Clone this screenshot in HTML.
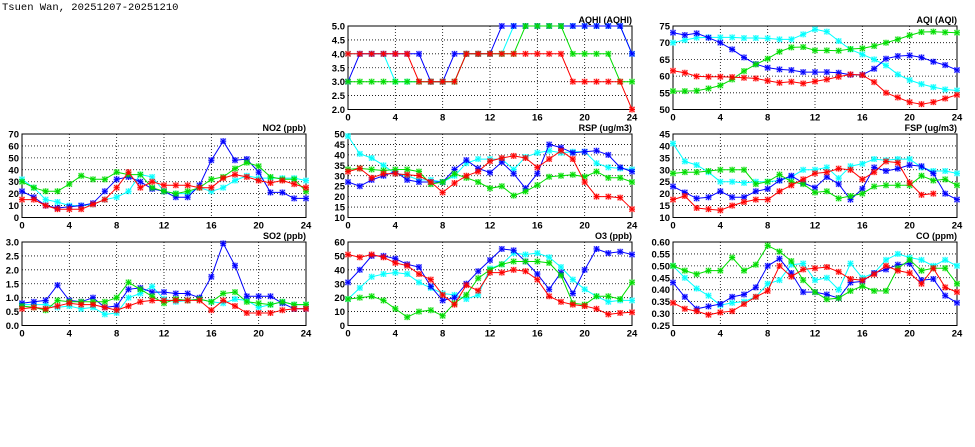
<!DOCTYPE html>
<html><head><meta charset="utf-8"><style>
body{margin:0;background:#fff;}
svg{display:block;font-family:"Liberation Sans",sans-serif;}
</style></head><body>
<svg id="c" width="975" height="447">
<text x="2" y="10" font-size="10.5" font-family="Liberation Mono, monospace">Tsuen Wan, 20251207-20251210</text>
</svg>
<script>
const hours=[0,1,2,3,4,5,6,7,8,9,10,11,12,13,14,15,16,17,18,19,20,21,22,23,24];
const xTicks=[0,4,8,12,16,20,24];
const colors=["#00ffff","#0000ff","#00dd00","#ff0000"];
const seriesNames=["cyan","blue","green","red"];
// AQHI
const aqhiCyan=[4,4,4,4,3,3,3,3,3,3,4,4,4,4,5,5,5,5,5,5,5,5,5,5,4];
const aqhiBlue=[3,4,4,4,4,4,4,3,3,4,4,4,4,5,5,5,5,5,5,5,5,5,5,5,4];
const aqhiGreen=[3,3,3,3,3,3,3,3,3,3,4,4,4,4,4,5,5,5,5,4,4,4,4,3,3];
const aqhiRed=[4,4,4,4,4,4,3,3,3,3,4,4,4,4,4,4,4,4,4,3,3,3,3,3,2];
const aqhiTicks=[2.0,2.5,3.0,3.5,4.0,4.5,5.0];
// AQI
const aqiCyan=[70,70.8,71.5,71.6,71.6,71.6,71.4,71.4,71.3,71,71,72.5,74,73.3,70.5,68,66.5,65,63.2,60.5,58.8,57.6,56.7,56,55.7];
const aqiBlue=[73,72.3,72.8,71.5,70,68,65.6,63.6,62.5,62,61.8,61.2,61.2,61.2,61,60.4,60.4,62.2,65.2,66,66.2,65.6,64.3,63.3,61.8];
const aqiGreen=[55.5,55.5,55.6,56.3,57.2,59,61.5,63.5,65.2,67.3,68.6,68.7,67.7,67.7,67.6,68.1,68.3,69,70,71,72.2,73.2,73.3,73.1,73];
const aqiRed=[61.6,61,59.9,59.8,59.8,59.7,59.5,59.3,58.6,58,58.3,57.8,58.4,59,59.8,60.5,60.3,58.2,55,53.6,52.2,51.6,52.2,53.3,54.4];
const aqiTicks=[50,55,60,65,70,75];
// NO2
const no2Cyan=[32,25,15,13,10,10,11,15,17,22,36,34,22,20,20,25,22,25,31,35,33,33,33,33,31];
const no2Blue=[22,17,10,8,9,10,12,22,32,34,30,24,22,17,17,27,48,64,48,49,38,21,21,16,16];
const no2Green=[30,25,22,22,28,35,32,32,38,36,36,25,22,20,22,25,32,34,41,46,43,34,32,32,22];
const no2Red=[15,15,10,7,7,7,11,15,25,38,25,30,27,27,27,25,25,33,36,34,31,29,31,28,25];
const no2Ticks=[0,10,20,30,40,50,60,70];
// RSP
const rspCyan=[49,40.5,38.5,35,31,30,28,28,27,30,36,38,38,38,33,39,41,42,41,41.5,41.5,36,34,33.5,33];
const rspBlue=[27,25,28,30,32,28,27,27,27,33,37.5,33.5,31.5,36.5,31,24,31,45,43.5,41,41.5,42,40,34,32];
const rspGreen=[33,33.5,33,32.5,33,33,32,26,27,31,29,27,24,25,20.5,22.5,25.5,29.5,30,30.5,29.5,32,29,29,27];
const rspRed=[32,33.5,29,31,31,30.5,30,27,22,26.5,30,32,37,38.5,39.5,38.5,34,38,42,38,27,20,20,19.5,14];
const rspTicks=[10,15,20,25,30,35,40,45,50];
// FSP
const fspCyan=[41,33.5,32,29,25,25,24.5,25,25,25.5,27,30,30,31,26.5,31.5,32.5,34.5,34,34.5,34.5,31,29.5,29.5,28.5];
const fspBlue=[23,20.5,18,18.5,21,18.5,18.5,21,22,25.5,27.5,24.5,22.5,27,24,17.5,22,31,29.5,30.5,32,31.5,28.5,20,17.5];
const fspGreen=[28.5,29,29,29.5,30,30,30,24,25,28,25,24,20.5,21,18,19,20,23,23.5,23.5,23.5,27.5,25.5,26,23.5];
const fspRed=[17.5,19,14,13.5,13,15,16.5,17.5,17.5,21,23.5,26,28.5,29,30.5,30,26,29,33.5,33,24.5,19.5,20,null,null];
const fspTicks=[10,15,20,25,30,35,40,45];
// SO2
const so2Cyan=[.75,.75,.75,.65,.7,.6,.65,.4,.45,1.0,1.15,1.4,.95,.85,.9,.95,.85,.8,.95,.9,.65,.75,.85,.75,.75];
const so2Blue=[.8,.85,.9,1.45,.9,.85,1.0,.65,.7,1.3,1.35,1.2,1.2,1.15,1.15,1.0,1.75,2.95,2.15,1.05,1.05,1.05,.8,.6,.6];
const so2Green=[.7,.65,.55,.9,.85,.85,.85,.85,1.0,1.55,1.3,1.05,.8,.95,.9,.95,.85,1.15,1.2,.85,.8,.75,.85,.75,.75];
const so2Red=[.6,.65,.6,.7,.8,.75,.75,.65,.55,.7,.85,.9,.9,.9,.9,.9,.55,.9,.7,.45,.45,.45,.55,.6,.6];
const so2Ticks=[0,0.5,1.0,1.5,2.0,2.5,3.0];
// O3
const o3Cyan=[19,27,35,37,38,37,31,27,23,22,19,22,41,44,52,51,52,49,42,33,26,21,17,18,18];
const o3Blue=[31,40,50,50,48,44,42,28,18,20,30,39,47,55,54,46,37,26,38,23,40,55,52,53,51];
const o3Green=[19,20,21,18,12,6,10,11,7,16,22,34,40,44,46,46,46,45,36,16,15,21,21,19,31];
const o3Red=[51,49,51,49,45,43,37,33,22,15,29,25,38,38,40,39,33,21,17,15,14,12,8,9,9.5];
const o3Ticks=[0,10,20,30,40,50,60];
// CO
const coCyan=[.50,.45,.405,.375,.335,.345,.35,.37,.425,.44,.505,.51,.44,.45,.40,.51,.45,.47,.525,.55,.535,.525,.50,.525,.50];
const coBlue=[.43,.37,.32,.33,.34,.37,.38,.41,.50,.53,.47,.39,.39,.38,.365,.43,.435,.47,.485,.505,.51,.44,.445,.375,.345];
const coGreen=[.50,.48,.465,.48,.48,.535,.48,.505,.585,.56,.52,.44,.39,.36,.365,.395,.415,.395,.395,.49,.525,.48,.49,.49,.425];
const coRed=[.345,.32,.31,.295,.305,.31,.34,.37,.395,.50,.455,.485,.49,.495,.475,.445,.44,.465,.50,.48,.47,.425,.49,.41,.39];
const coTicks=[0.25,0.30,0.35,0.40,0.45,0.50,0.55,0.60];

const panels=[
 {name:"aqhi",title:"AQHI (AQHI)",x:348,y:26,s:[aqhiCyan,aqhiBlue,aqhiGreen,aqhiRed],t:aqhiTicks,d:1},
 {name:"aqi",title:"AQI (AQI)",x:673,y:26,s:[aqiCyan,aqiBlue,aqiGreen,aqiRed],t:aqiTicks,d:0},
 {name:"no2",title:"NO2 (ppb)",x:22,y:134,s:[no2Cyan,no2Blue,no2Green,no2Red],t:no2Ticks,d:0},
 {name:"rsp",title:"RSP (ug/m3)",x:348,y:134,s:[rspCyan,rspBlue,rspGreen,rspRed],t:rspTicks,d:0},
 {name:"fsp",title:"FSP (ug/m3)",x:673,y:134,s:[fspCyan,fspBlue,fspGreen,fspRed],t:fspTicks,d:0},
 {name:"so2",title:"SO2 (ppb)",x:22,y:242,s:[so2Cyan,so2Blue,so2Green,so2Red],t:so2Ticks,d:1},
 {name:"o3",title:"O3 (ppb)",x:348,y:242,s:[o3Cyan,o3Blue,o3Green,o3Red],t:o3Ticks,d:0},
 {name:"co",title:"CO (ppm)",x:673,y:242,s:[coCyan,coBlue,coGreen,coRed],t:coTicks,d:2}
];
const W=284,H=83.5;
const svg=document.getElementById('c');
const NS="http://www.w3.org/2000/svg";
function mk(tag,attrs,parent){const e=document.createElementNS(NS,tag);for(const k in attrs)e.setAttribute(k,attrs[k]);parent.appendChild(e);return e;}
panels.forEach(p=>{
 const g=mk('g',{},svg);
 
 
 const ymin=p.t[0],ymax=p.t[p.t.length-1];
 const xs=v=>p.x+v/24*W;
 const ys=v=>p.y+H-(v-ymin)/(ymax-ymin)*H;
 p.t.forEach(v=>{
  const yy=ys(v);
  if(v!==ymin&&v!==ymax){const l=mk('line',{x1:p.x,x2:p.x+W,y1:yy,y2:yy,stroke:'#000','stroke-width':0.8,'stroke-dasharray':'1,2'},g);
  }
  const tx=mk('text',{x:p.x-3,y:yy+3.5,'font-size':9.5,'font-weight':'bold','text-anchor':'end'},g);
  tx.textContent=v.toFixed(p.d);
  
 });
 xTicks.forEach(v=>{
  const xx=xs(v);
  if(v!==0&&v!==24){const l=mk('line',{x1:xx,x2:xx,y1:p.y,y2:p.y+H,stroke:'#000','stroke-width':0.8,'stroke-dasharray':'1,2'},g);
  }
  const tx=mk('text',{x:xx,y:p.y+H+11,'font-size':9.5,'font-weight':'bold','text-anchor':'middle'},g);
  tx.textContent=v;
  
 });
 const fr=mk('rect',{x:p.x,y:p.y,width:W,height:H,fill:'none',stroke:'#000','stroke-width':1},g);
 
 const tt=mk('text',{x:p.x+W,y:p.y-3,'font-size':9,'font-weight':'bold','text-anchor':'end'},g);
 tt.textContent=p.title;
 
 p.s.forEach((arr,si)=>{
  const c=colors[si];
  let d='',pen=false;
  arr.forEach((v,i)=>{if(v===null){pen=false;return;}d+=(pen?'L':'M')+xs(hours[i]).toFixed(1)+','+ys(v).toFixed(1);pen=true;});
  const ln=mk('path',{d:d,fill:'none',stroke:c,'stroke-width':1},g);
  
  
  arr.forEach((v,i)=>{
   if(v===null)return;
   const cx=xs(hours[i]),cy=ys(v);
   const m=mk('path',{d:`M${cx-2.5},${cy-2.5}L${cx+2.5},${cy+2.5}M${cx-2.5},${cy+2.5}L${cx+2.5},${cy-2.5}M${cx},${cy-3}V${cy+3}M${cx-3},${cy}H${cx+3}`,stroke:c,'stroke-width':0.9,fill:'none'},g);
   
   
   const r=mk('rect',{x:cx-3,y:cy-3,width:6,height:6,fill:c,'fill-opacity':0.3},g);
   
   
  });
 });
});
</script>
</body></html>
